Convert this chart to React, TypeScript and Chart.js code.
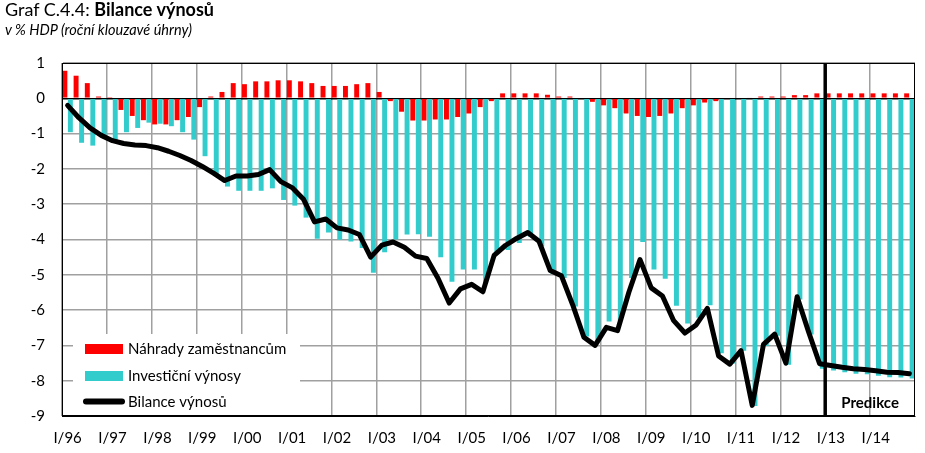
import React, { useEffect, useRef } from 'react';
import { Chart, registerables } from 'chart.js';

Chart.register(...registerables);

const years = ['96', '97', '98', '99', '00', '01', '02', '03', '04', '05', '06', '07', '08', '09', '10', '11', '12', '13', '14'];
const quarterNames = ['I', 'II', 'III', 'IV'];
const categories = years.flatMap((y) => quarterNames.map((q) => `${q}/${y}`));

const nahrady = [
  0.78, 0.64, 0.43, 0.05, 0.01, -0.33, -0.5, -0.62, -0.74, -0.74, -0.62, -0.53, -0.25, 0.05, 0.18, 0.43,
  0.4, 0.48, 0.48, 0.51, 0.51, 0.48, 0.43, 0.35, 0.35, 0.35, 0.4, 0.43, 0.18, -0.08, -0.38, -0.63,
  -0.63, -0.6, -0.6, -0.53, -0.43, -0.25, -0.08, 0.14, 0.14, 0.14, 0.14, 0.1, 0.05, 0.05, -0.02, -0.1,
  -0.2, -0.28, -0.43, -0.5, -0.53, -0.5, -0.43, -0.28, -0.2, -0.12, -0.08, -0.02, 0.0, 0.02, 0.05, 0.05,
  0.05, 0.09, 0.09, 0.14, 0.14, 0.14, 0.14, 0.14, 0.14, 0.14, 0.14, 0.14,
];

const investicni = [
  -0.96, -1.26, -1.34, -1.1, -1.19, -0.96, -0.84, -0.69, -0.72, -0.79, -0.96, -1.17, -1.64, -2.17, -2.5, -2.62,
  -2.62, -2.62, -2.55, -2.88, -3.04, -3.38, -3.98, -3.8, -4.01, -4.06, -4.24, -4.94, -4.36, -4.0, -3.86, -3.85,
  -3.92, -4.5, -5.2, -4.85, -4.85, -5.23, -4.37, -4.3, -4.1, -3.92, -4.19, -4.97, -5.09, -5.9, -6.75, -6.9,
  -6.32, -6.3, -5.09, -4.07, -4.85, -5.11, -5.88, -6.38, -6.22, -5.86, -7.22, -7.51, -7.15, -8.72, -7.02, -6.73,
  -7.55, -5.7, -6.69, -7.66, -7.71, -7.76, -7.8, -7.82, -7.86, -7.9, -7.91, -7.94,
];

const bilance = [
  -0.2, -0.55, -0.84, -1.05, -1.2, -1.28, -1.32, -1.34, -1.4, -1.5, -1.62, -1.76, -1.93, -2.12, -2.33, -2.2,
  -2.2, -2.16, -2.02, -2.36, -2.53, -2.85, -3.5, -3.42, -3.67, -3.73, -3.86, -4.5, -4.16, -4.07, -4.22, -4.47,
  -4.54, -5.1, -5.8, -5.4, -5.27, -5.48, -4.45, -4.17, -3.97, -3.8, -4.05, -4.88, -5.03, -5.85, -6.77, -7.0,
  -6.49, -6.58, -5.5, -4.57, -5.37, -5.6, -6.3, -6.65, -6.42, -5.95, -7.3, -7.53, -7.15, -8.7, -6.97, -6.68,
  -7.5, -5.62, -6.6, -7.52, -7.57, -7.62, -7.66, -7.68, -7.72, -7.76, -7.77, -7.8,
];

const yMin = -9;
const yMax = 1;
const forecastStart = 'I/13';
const forecastLabel = 'Predikce';
const seriesNames = ['Náhrady zaměstnancům', 'Investiční výnosy', 'Bilance výnosů'];
const seriesColors = ['#ff0000', '#33cccc', '#000000'];

const FONT = 'Lato, "Open Sans", sans-serif';

const overlayPlugin = {
  id: 'overlay',
  afterDatasetsDraw(chart: any) {
    const { ctx, chartArea: a, scales } = chart;
    const x = scales.x;
    ctx.save();

    // legend box (white, covers grid)
    const lx = a.left + 11;
    const ly = a.bottom - 82;
    ctx.fillStyle = '#ffffff';
    ctx.fillRect(lx, ly, 227, a.bottom - ly - 1);

    ctx.font = `15px ${FONT}`;
    ctx.textBaseline = 'middle';
    ctx.textAlign = 'left';
    const rows = [a.bottom - 67, a.bottom - 40, a.bottom - 14.5];
    ctx.fillStyle = seriesColors[0];
    ctx.fillRect(a.left + 23, rows[0] - 5, 38, 10);
    ctx.fillStyle = seriesColors[1];
    ctx.fillRect(a.left + 23, rows[1] - 5, 38, 10);
    ctx.strokeStyle = seriesColors[2];
    ctx.lineWidth = 6;
    ctx.lineCap = 'round';
    ctx.beginPath();
    ctx.moveTo(a.left + 24, rows[2]);
    ctx.lineTo(a.left + 60, rows[2]);
    ctx.stroke();
    ctx.fillStyle = '#000';
    seriesNames.forEach((n, i) => ctx.fillText(n, a.left + 66, rows[i] + 0.5));

    // frame
    ctx.lineCap = 'butt';
    ctx.lineWidth = 1;
    ctx.strokeStyle = '#000';
    ctx.strokeRect(a.left + 0.5, a.top + 0.5, a.right - a.left - 1, a.bottom - a.top - 1);

    // forecast line
    const idx = categories.indexOf(forecastStart);
    const px = (x.getPixelForValue(idx - 1) + x.getPixelForValue(idx)) / 2;
    ctx.lineWidth = 3.5;
    ctx.beginPath();
    ctx.moveTo(px, a.top);
    ctx.lineTo(px, a.bottom);
    ctx.stroke();

    ctx.font = `bold 15px ${FONT}`;
    ctx.textAlign = 'center';
    ctx.fillStyle = '#000';
    ctx.fillText(forecastLabel, (px + a.right) / 2, a.bottom - 13);
    ctx.restore();
  },
};

export default function App() {
  const ref = useRef<HTMLCanvasElement | null>(null);

  useEffect(() => {
    if (!ref.current) return;
    const chart = new Chart(ref.current, {
      type: 'bar',
      data: {
        labels: categories,
        datasets: [
          {
            type: 'line',
            label: seriesNames[2],
            data: bilance,
            borderColor: seriesColors[2],
            borderWidth: 5,
            pointRadius: 0,
            borderJoinStyle: 'round',
            borderCapStyle: 'round',
            tension: 0,
            order: 0,
          } as any,
          {
            label: seriesNames[0],
            data: nahrady,
            backgroundColor: seriesColors[0],
            categoryPercentage: 0.98,
            barPercentage: 0.9,
            order: 1,
          },
          {
            label: seriesNames[1],
            data: investicni,
            backgroundColor: seriesColors[1],
            categoryPercentage: 0.98,
            barPercentage: 0.9,
            order: 1,
          },
        ],
      },
      options: {
        animation: false,
        responsive: false,
        maintainAspectRatio: false,
        layout: { padding: { top: 63, right: 10, left: 0, bottom: 0 } },
        plugins: { legend: { display: false }, tooltip: { enabled: false } },
        scales: {
          x: {
            offset: true,
            grid: {
              offset: true,
              drawTicks: false,
              lineWidth: 1.5,
              color: (c: any) => (c.index % 4 === 0 ? '#a0a0a0' : 'rgba(0,0,0,0)'),
            },
            border: { display: true, color: '#000', width: 1 },
            ticks: {
              autoSkip: false,
              maxRotation: 0,
              minRotation: 0,
              padding: 13,
              color: '#000',
              font: { family: FONT, size: 15 },
              callback: (_v: any, i: number) => (categories[i].startsWith('I/') ? categories[i] : ''),
            },
            afterFit: (s: any) => {
              s.height = 37;
            },
          },
          y: {
            min: yMin,
            max: yMax,
            grid: {
              drawTicks: false,
              lineWidth: 1.5,
              color: (c: any) => (c.tick && c.tick.value === 0 ? '#000' : '#a0a0a0'),
            },
            border: { display: true, color: '#000', width: 1 },
            ticks: {
              stepSize: 1,
              padding: 17,
              color: '#000',
              font: { family: FONT, size: 15 },
            },
            afterFit: (s: any) => {
              s.width = 62;
            },
          },
        },
      },
      plugins: [overlayPlugin],
    });
    return () => chart.destroy();
  }, []);

  return (
    <div style={{ position: 'absolute', left: 0, top: 0, width: 925, height: 453, background: '#fff' }}>
      <canvas ref={ref} width={925} height={453} style={{ position: 'absolute', left: 0, top: 0 }} />
      <div style={{ position: 'absolute', left: 5, top: -1, fontFamily: FONT, fontSize: 18, lineHeight: 1.2, color: '#000', whiteSpace: 'nowrap' }}>
        Graf C.4.4: <b>Bilance výnosů</b>
      </div>
      <div style={{ position: 'absolute', left: 5, top: 21, fontFamily: FONT, fontSize: 14.5, fontStyle: 'italic', lineHeight: 1.2, color: '#000', whiteSpace: 'nowrap' }}>
        v % HDP (roční klouzavé úhrny)
      </div>
    </div>
  );
}
